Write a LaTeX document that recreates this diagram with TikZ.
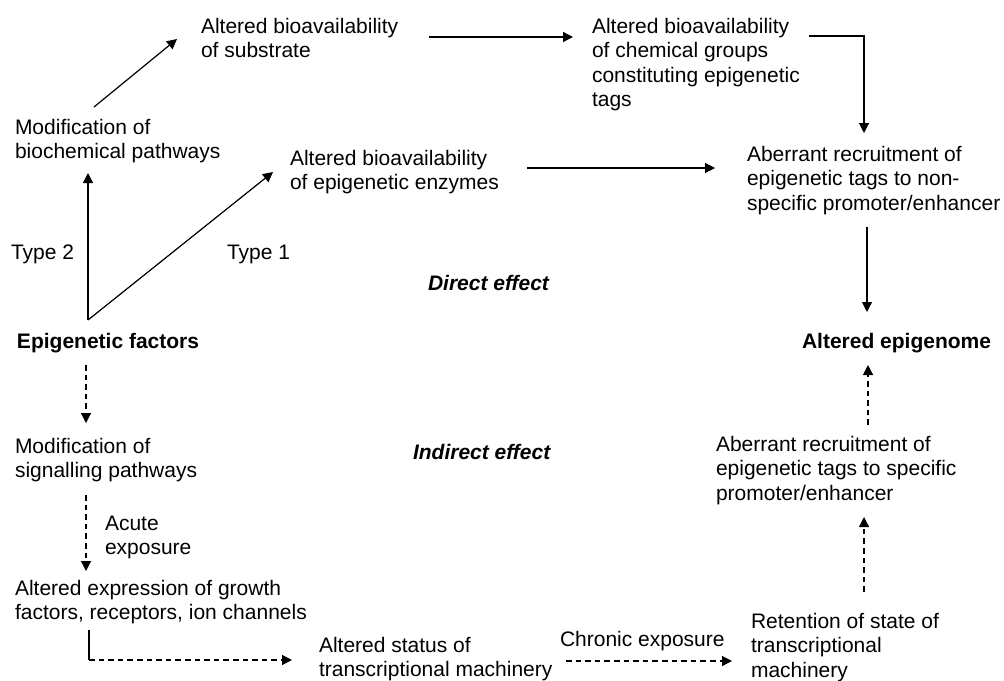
\documentclass[tikz,border=0pt]{standalone}
\usepackage{fontspec}
\setmainfont{Liberation Sans}
\usetikzlibrary{arrows.meta}
\begin{document}
\begin{tikzpicture}[x=0.5pt,y=-0.5pt,
  txt/.style={inner sep=0pt,outer sep=0pt,align=left,anchor=north west,
    font=\fontsize{10.5}{12.2}\selectfont},
  bold/.style={txt,font=\fontsize{10.5}{12.2}\selectfont\bfseries},
  effect/.style={inner sep=0pt,outer sep=0pt,anchor=west,
    font=\fontsize{10.5}{12.2}\selectfont\bfseries\itshape},
  link/.style={line width=0.6pt,-{Triangle[length=5pt,width=5pt]}},
  dlink/.style={link,dash pattern=on 2.8pt off 2pt},
  plain/.style={line width=0.6pt}]
\useasboundingbox (0,0) rectangle (1004,680);

% direct (type 1 / type 2) branch
\node[txt] (subst)   at (201,18)  {Altered bioavailability\\of substrate};
\node[txt] (chem)    at (592,18)  {Altered bioavailability\\of chemical groups\\constituting epigenetic\\tags};
\node[txt] (modbio)  at (15,119)  {Modification of\\biochemical pathways};
\node[txt] (enz)     at (290,150) {Altered bioavailability\\of epigenetic enzymes};
\node[txt] (nonspec) at (747,146) {Aberrant recruitment of\\epigenetic tags to non-\\specific promoter/enhancer};
\node[txt] (type2)   at (11,245)  {Type 2};
\node[txt] (type1)   at (227,245) {Type 1};
\node[effect] (direct) at (428,283) {Direct effect};

% central items
\node[bold] (efx)  at (17,333)  {Epigenetic factors};
\node[bold] (epig) at (802,333) {Altered epigenome};

% indirect branch
\node[txt] (modsig)  at (15,438)  {Modification of\\signalling pathways};
\node[effect] (indirect) at (413,452) {Indirect effect};
\node[txt] (spec)    at (716,436) {Aberrant recruitment of\\epigenetic tags to specific\\promoter/enhancer};
\node[txt] (acute)   at (105,516) {Acute\\exposure};
\node[txt] (growth)  at (15,580)  {Altered expression of growth\\factors, receptors, ion channels};
\node[txt] (status)  at (319,637) {Altered status of\\transcriptional machinery};
\node[txt] (chronic) at (560,631) {Chronic exposure};
\node[txt] (retain)  at (751,613) {Retention of state of\\transcriptional\\machinery};

% solid connectors
\draw[link] ([shift={(79,-12)}]modbio.north west) -- ([shift={(-24,21)}]subst.north west);
\draw[link] ([shift={(228,19)}]subst.north west) -- ([shift={(-19,19)}]chem.north west);
\draw[link] ([shift={(217,18)}]chem.north west) -| ([shift={(117,-13)}]nonspec.north west);
\draw[link] ([shift={(237,18)}]enz.north west) -- ([shift={(-32,22)}]nonspec.north west);
\draw[link] ([shift={(120,81)}]nonspec.north west) -- ([shift={(65,-21)}]epig.north west);
\draw[link] ([shift={(71,-13)}]efx.north west) -- ([shift={(73,54)}]modbio.north west);
\draw[link] ([shift={(71,-13)}]efx.north west) -- ([shift={(-17,22)}]enz.north west);

% dashed connectors
\draw[dlink] ([shift={(69,32)}]efx.north west) -- ([shift={(71,-15)}]modsig.north west);
\draw[dlink] ([shift={(71,57)}]modsig.north west) -- ([shift={(71,-9)}]growth.north west);
\coordinate (gturn) at ([shift={(74,80)}]growth.north west);
\draw[plain] ([shift={(74,50)}]growth.north west) -- (gturn);
\draw[dlink] (gturn) -- ([shift={(-27,23)}]status.north west);
\draw[dlink] ([shift={(247,24)}]status.north west) -- ([shift={(-19,48)}]retain.north west);
\draw[dlink] ([shift={(113,-21)}]retain.north west) -- ([shift={(148,81)}]spec.north west);
\draw[dlink] ([shift={(152,-11)}]spec.north west) -- ([shift={(66,32)}]epig.north west);
\end{tikzpicture}
\end{document}
